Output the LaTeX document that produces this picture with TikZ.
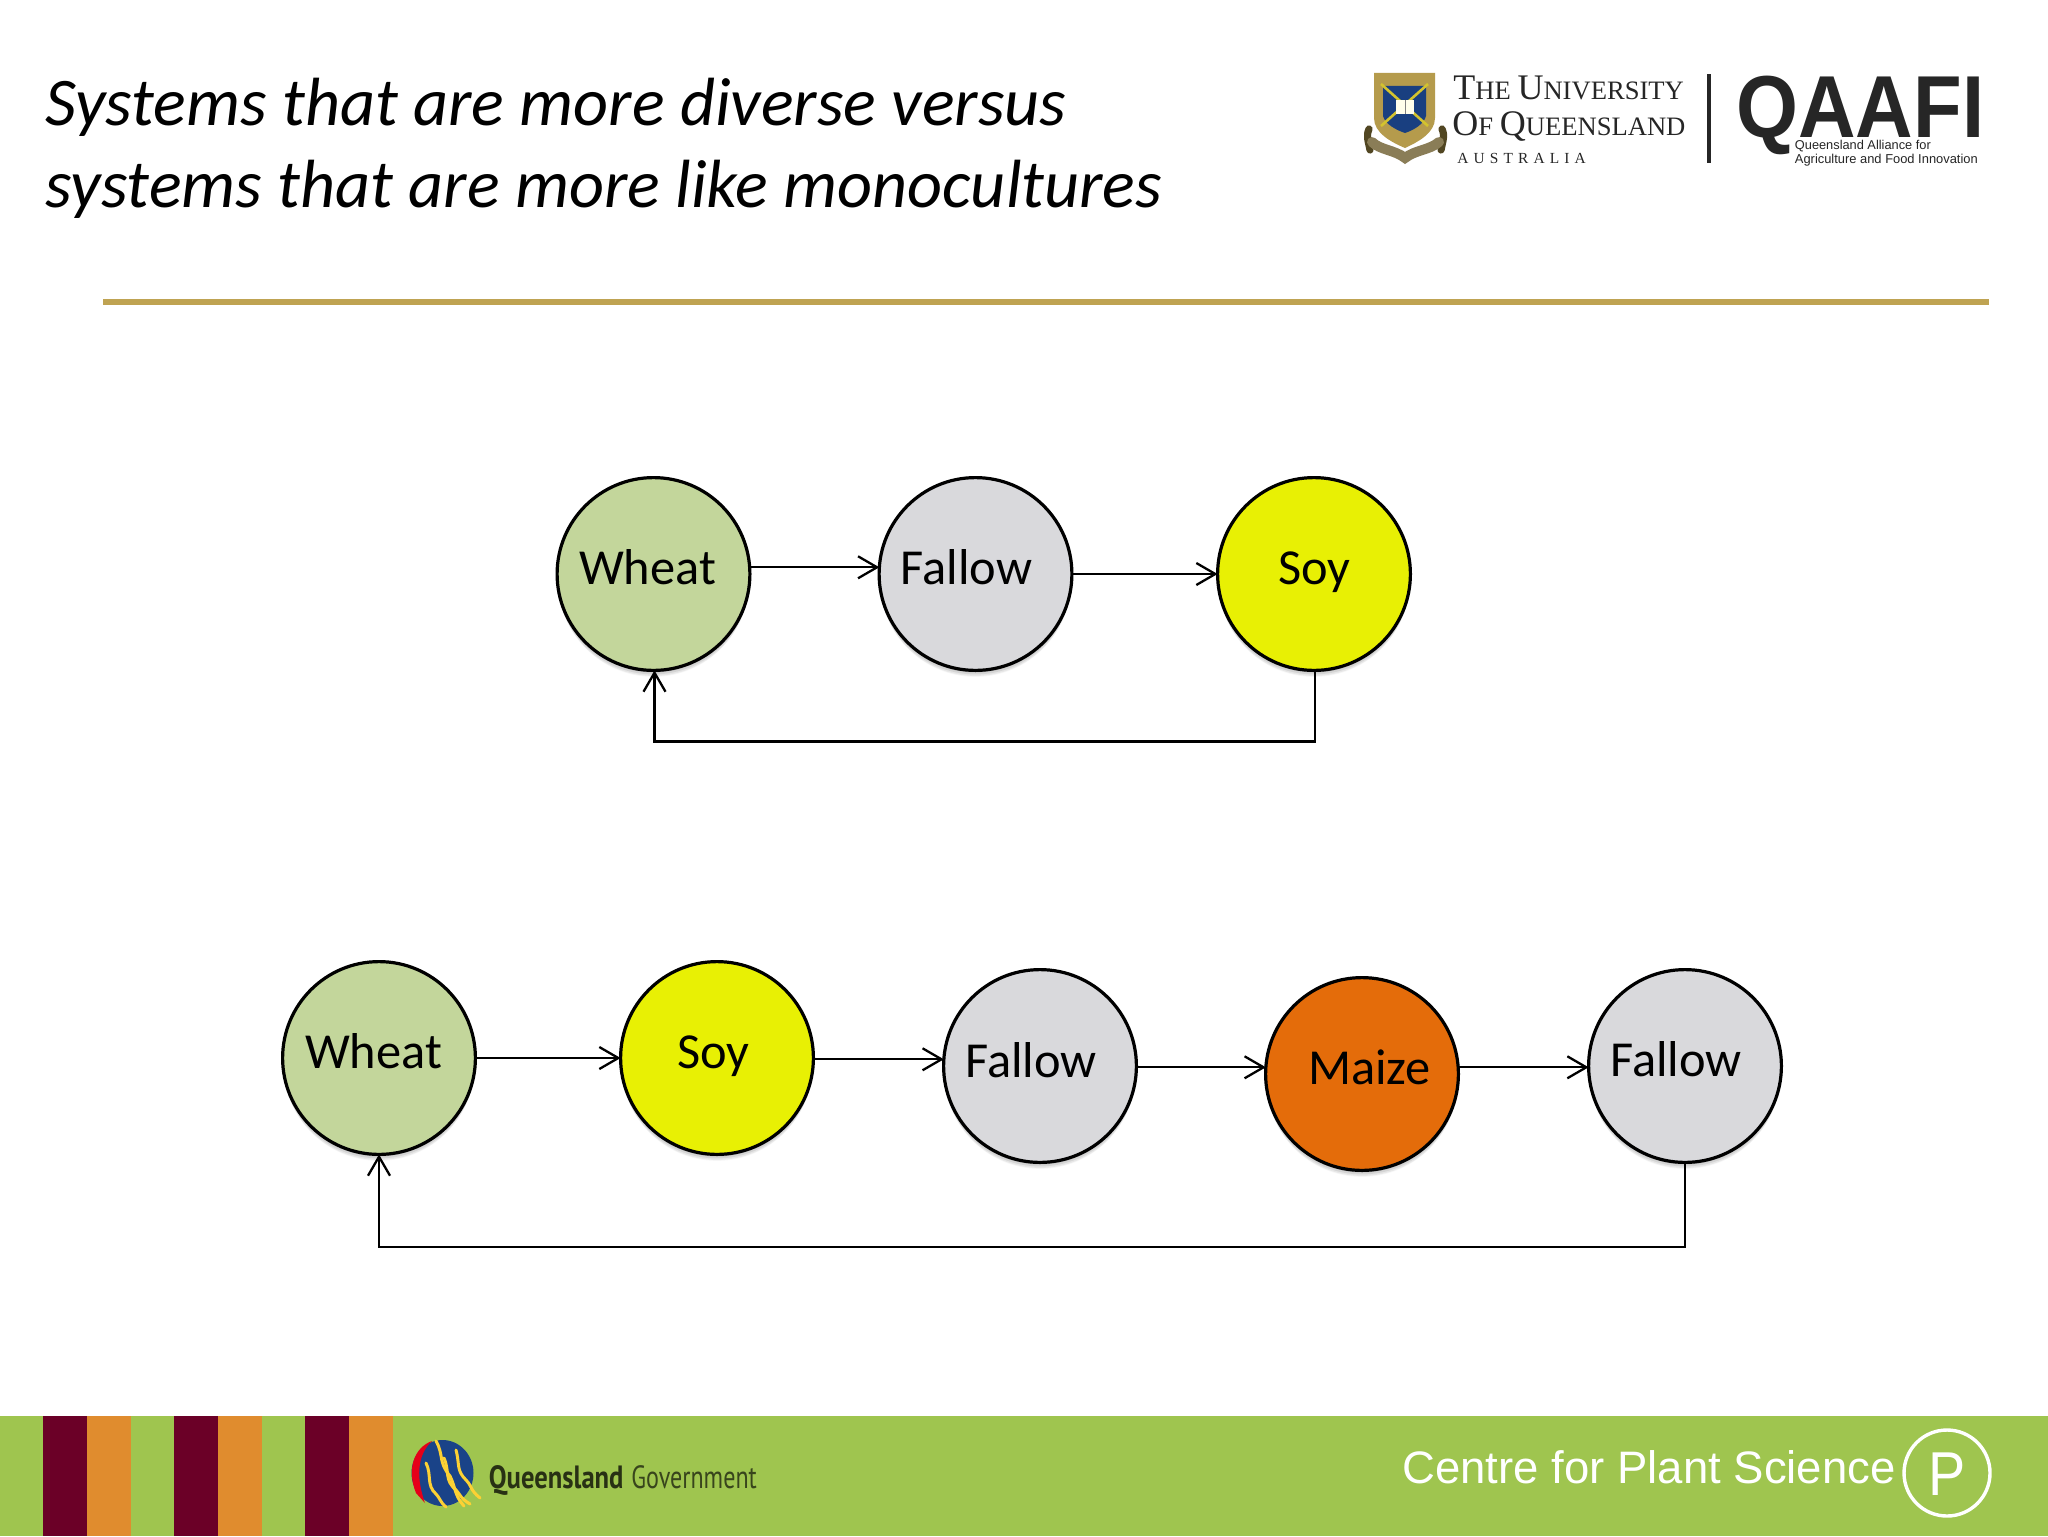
\documentclass[tikz,border=0pt]{standalone}
\usepackage{fontspec}
\setmainfont{Carlito}
\newfontfamily\arialf{Liberation Sans}
\newfontfamily\serf{Liberation Serif}
\newfontfamily\ptf{PT Sans}
\usetikzlibrary{arrows.meta,shadows,calc}
\definecolor{wheatc}{HTML}{C3D69B}
\definecolor{fallowc}{HTML}{D9D9DC}
\definecolor{soyc}{HTML}{E8F004}
\definecolor{maizec}{HTML}{E46C0A}
\definecolor{goldc}{HTML}{BFA352}
\definecolor{footg}{HTML}{9FC54F}
\definecolor{maroonc}{HTML}{6B0027}
\definecolor{orangec}{HTML}{E08C2E}
\definecolor{crestg}{HTML}{B59B4C}
\definecolor{crestb}{HTML}{1F4FA0}
\definecolor{inkc}{HTML}{262626}
\tikzset{
  crop/.style={circle,draw=black,line width=1.6pt,minimum size=96.4pt,inner sep=0pt,outer sep=0pt,
    drop shadow={shadow xshift=0pt,shadow yshift=-1pt,opacity=.28,shadow scale=1.0},
    drop shadow={shadow xshift=0pt,shadow yshift=-2pt,opacity=.18,shadow scale=1.0},
    drop shadow={shadow xshift=0pt,shadow yshift=-3pt,opacity=.12,shadow scale=.995},
    drop shadow={shadow xshift=0pt,shadow yshift=-4pt,opacity=.07,shadow scale=.985}},
  croplabel/.style={anchor=base,inner sep=0pt,font=\fontsize{25.2}{30}\selectfont},
  flow/.style={line width=1.15pt,-{Straight Barb[length=9.5pt,width=11pt,line width=1.15pt]}},
  titletext/.style={anchor=base west,inner sep=0pt,font=\fontsize{34.1}{40}\selectfont\itshape},
  txt/.style={inner sep=0pt,anchor=base west},
}
\begin{document}
\begin{tikzpicture}[x=0.5pt,y=-0.5pt]
\useasboundingbox (0,0) rectangle (2048,1536);
\fill[white] (0,0) rectangle (2048,1536);
% title
\node[titletext] (title1) at (45,126) {Systems that are more diverse versus};
\node[titletext] (title2) at (45,207) {systems that are more like monocultures};
\fill[goldc] (103,299) rectangle (1989,305);
% crest
\fill[crestg] (1374,73) -- (1435,73) -- (1435,118) .. controls (1435,133) and (1418,142) .. (1405,148) .. controls (1391,142) and (1374,133) .. (1374,118) -- cycle;
\fill[crestb!80!black] (1383,86) -- (1426,86) -- (1426,116) .. controls (1424,124) and (1414,130) .. (1405,133) .. controls (1396,130) and (1385,124) .. (1383,116) -- cycle;
\draw[line width=1.3pt,color=crestg!60!yellow] (1381,84) -- (1428,126) (1428,84) -- (1381,126);
\fill[white!92!yellow] (1396,100) rectangle (1414,114);
\draw[line width=.4pt,color=gray] (1405,100) -- (1405,114);
\draw[line width=3.6pt,color=black!55!crestg,line cap=round] (1370,150) .. controls (1368,140) and (1366,136) .. (1369,129);
\draw[line width=3.6pt,color=black!55!crestg,line cap=round] (1441,150) .. controls (1443,140) and (1445,136) .. (1442,129);
\draw[line width=5pt,color=black!40!crestg!80!white,line cap=round] (1372,142) .. controls (1380,150) and (1395,150) .. (1405,158) .. controls (1415,150) and (1430,150) .. (1439,142);
% UQ wordmark
\node[txt,text=inkc,font=\fontsize{18}{20}\serf] (uq1) at (1453,99.5) {T\fontsize{13.3}{15}\selectfont HE \fontsize{18}{20}\selectfont U\fontsize{13.3}{15}\selectfont NIVERSITY};
\node[txt,text=inkc,font=\fontsize{18}{20}\serf] (uq2) at (1452,135) {O\fontsize{13.3}{15}\selectfont F \fontsize{18}{20}\selectfont Q\fontsize{13.3}{15}\selectfont UEENSLAND};
\node[txt,text=inkc,font=\fontsize{7.7}{9}\serf] (uq3) at (1457,163) {A\,\,U\,\,S\,\,T\,\,R\,\,A\,\,L\,\,I\,\,A};
\fill[inkc] (1707,74) rectangle (1711,163);
\node[txt,text=inkc,font=\fontsize{44}{50}\arialf\bfseries] (qaafi) at (1736,137) {\scalebox{.905}[1]{QAAFI}};
\node[txt,text=inkc,font=\fontsize{6.4}{8}\arialf] (q1) at (1794.5,149) {Queensland Alliance for};
\node[txt,text=inkc,font=\fontsize{6.45}{8}\arialf] (q2) at (1794.5,163) {Agriculture and Food Innovation};
% row 1
\node[crop,fill=wheatc] (w1) at (653.5,574) {};
\node[crop,fill=fallowc] (f1) at (975.5,574) {};
\node[crop,fill=soyc] (s1) at (1314,574) {};
\node[croplabel] (tw1) at (647.5,584) {Wheat};
\node[croplabel] (tf1) at (966.5,584) {Fallow};
\node[croplabel] (ts1) at (1314.5,584) {Soy};
\draw[flow] (w1.4) -- (f1.176);
\draw[flow] (f1.east) -- (s1.west);
\draw[flow] ([xshift=.5pt]s1.south) -- ++(0,71) -| ([xshift=.5pt]w1.south);
% row 2
\node[crop,fill=wheatc] (w2) at (379,1058) {};
\node[crop,fill=soyc] (s2) at (717,1058) {};
\node[crop,fill=fallowc] (f2) at (1040,1066) {};
\node[crop,fill=maizec] (m2) at (1362,1074) {};
\node[crop,fill=fallowc] (f3) at (1685,1066) {};
\node[croplabel] (tw2) at (373.5,1068) {Wheat};
\node[croplabel] (ts2) at (713.5,1068) {Soy};
\node[croplabel] (tf2) at (1031,1077) {Fallow};
\node[croplabel] (tm2) at (1369.5,1084) {Maize};
\node[croplabel] (tf3) at (1676,1076.5) {Fallow};
\draw[flow] (w2.east) -- (s2.west);
\draw[flow] (f2.176 -| s2.east) -- (f2.176);
\draw[flow] (m2.176 -| f2.east) -- (m2.176);
\draw[flow] (m2.4) -- (m2.4 -| f3.west);
\draw[flow] (f3.south) -- ++(0,84.5) -| (w2.south);
% footer
\fill[footg] (0,1416) rectangle (2048,1536);
\fill[maroonc] (43,1416) rectangle (87,1536);
\fill[orangec] (87,1416) rectangle (131,1536);
\fill[maroonc] (174,1416) rectangle (218,1536);
\fill[orangec] (218,1416) rectangle (262,1536);
\fill[maroonc] (305,1416) rectangle (349,1536);
\fill[orangec] (349,1416) rectangle (393,1536);
% government logo
\fill[crestb!85!black] (442.5,1473) ellipse [x radius=31,y radius=33];
\fill[red!60!purple] (416,1493) .. controls (406,1468) and (415,1447) .. (432,1441) .. controls (420,1452) and (414,1472) .. (425,1503) -- cycle;
\begin{scope}[line width=1.5pt,color=yellow!60!orange!80!white,line cap=round]
\draw (436,1441) .. controls (444,1455) and (438,1462) .. (450,1476) .. controls (456,1488) and (454,1495) .. (464,1506);
\draw (426,1463) .. controls (432,1475) and (426,1485) .. (436,1494) .. controls (440,1498) and (440,1502) .. (446,1507);
\draw (456,1450) .. controls (460,1465) and (456,1470) .. (466,1480) .. controls (472,1486) and (470,1490) .. (480,1498);
\draw (444,1458) .. controls (450,1472) and (444,1480) .. (456,1490) .. controls (460,1494) and (460,1498) .. (470,1504);
\end{scope}
\node[txt,text=black!75!footg,font=\fontsize{14}{17}\ptf\bfseries] (qg1) at (488.5,1488) {\scalebox{.95}[1.15]{Queensland}};
\node[txt,text=black!65!footg,font=\fontsize{14}{17}\ptf] (qg2) at (631,1488) {\scalebox{.86}[1.15]{Government}};
% centre
\node[txt,text=white,font=\fontsize{22.75}{27}\arialf] (cps) at (1402,1483) {Centre for Plant Science};
\node[circle,draw=white,line width=1.7pt,minimum size=43pt,inner sep=0pt,outer sep=0pt] (pc) at (1947,1473) {};
\node[inner sep=0pt,text=white,font=\fontsize{31}{36}\arialf] (pl) at (1947,1474) {\scalebox{.9}[1]{P}};
\end{tikzpicture}
\end{document}
